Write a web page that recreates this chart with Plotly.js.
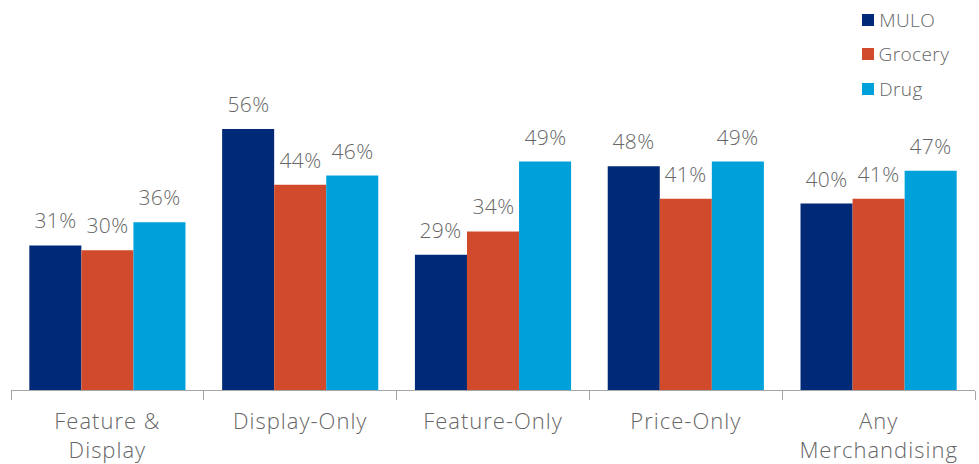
<!DOCTYPE html>
<html>
<head>
<meta charset="utf-8">
<script src="https://cdn.plot.ly/plotly-3.0.1.min.js"></script>
<style>
html,body{margin:0;padding:0;background:#fff;}
#chart{width:979px;height:464px;}
#chart svg text{letter-spacing:0.4px;}
#chart svg .xtick text{letter-spacing:1px;}
</style>
</head>
<body>
<div id="chart"></div>
<script>
const categories = ["Feature &<br>Display", "Display-Only", "Feature-Only", "Price-Only", "Any<br>Merchandising"];
const seriesNames = ["MULO", "Grocery", "Drug"];
const mulo = [31, 56, 29, 48, 40];
const grocery = [30, 44, 34, 41, 41];
const drug = [36, 46, 49, 49, 47];
const colors = ["#002A77", "#D14A2B", "#00A1DB"];

const values = [mulo, grocery, drug];
const FONT = "'Open Sans', Lato, sans-serif";
const TXT = "#666666";
const bargap = 0.19;
const barW = (1 - bargap) / 3;

const traces = values.map((v, s) => ({
  type: "bar",
  name: seriesNames[s],
  x: categories,
  y: v,
  marker: {color: colors[s]},
  hoverinfo: "skip"
}));

const annotations = [];
values.forEach((v, s) => {
  v.forEach((val, i) => {
    annotations.push({
      xref: "x", yref: "y",
      x: i + (s - 1) * barW, y: val,
      text: val + "%",
      showarrow: false,
      yanchor: "middle",
      yshift: 25,
      font: {family: FONT, size: 21, color: TXT, weight: 300}
    });
  });
});

// custom legend
const shapes = [];
const legX0 = (862 - 11) / 964, legX1 = (874 - 11) / 964;
const legYs = [20, 54, 89];
seriesNames.forEach((n, s) => {
  const yc = legYs[s];
  shapes.push({
    type: "rect", xref: "paper", yref: "paper",
    x0: legX0, x1: legX1,
    y0: (390 - (yc - 6)) / 373, y1: (390 - (yc + 6)) / 373,
    fillcolor: colors[s], line: {width: 0}
  });
  annotations.push({
    xref: "paper", yref: "paper",
    x: (878 - 11) / 964, y: (390 - yc) / 373,
    xanchor: "left", yanchor: "middle",
    text: n, showarrow: false,
    font: {family: FONT, size: 19, color: TXT, weight: 300}
  });
});

const layout = {
  width: 979, height: 464,
  margin: {l: 11, r: 4, t: 17, b: 74},
  paper_bgcolor: "#fff", plot_bgcolor: "#fff",
  barmode: "group",
  bargap: bargap,
  bargroupgap: 0,
  showlegend: false,
  font: {family: FONT, color: TXT, size: 22},
  xaxis: {
    type: "category",
    showline: true, linecolor: "#A6A6A6", linewidth: 1,
    ticks: "outside", tickson: "boundaries", ticklen: 9, tickcolor: "#A6A6A6", tickwidth: 1,
    ticklabelstandoff: 12,
    tickfont: {family: FONT, size: 22, color: TXT, weight: 300},
    showgrid: false, zeroline: false, fixedrange: true
  },
  yaxis: {
    range: [0, 80], visible: false, showgrid: false, zeroline: false, fixedrange: true
  },
  annotations: annotations,
  shapes: shapes
};

Plotly.newPlot("chart", traces, layout, {displayModeBar: false, staticPlot: true});
</script>
</body>
</html>
